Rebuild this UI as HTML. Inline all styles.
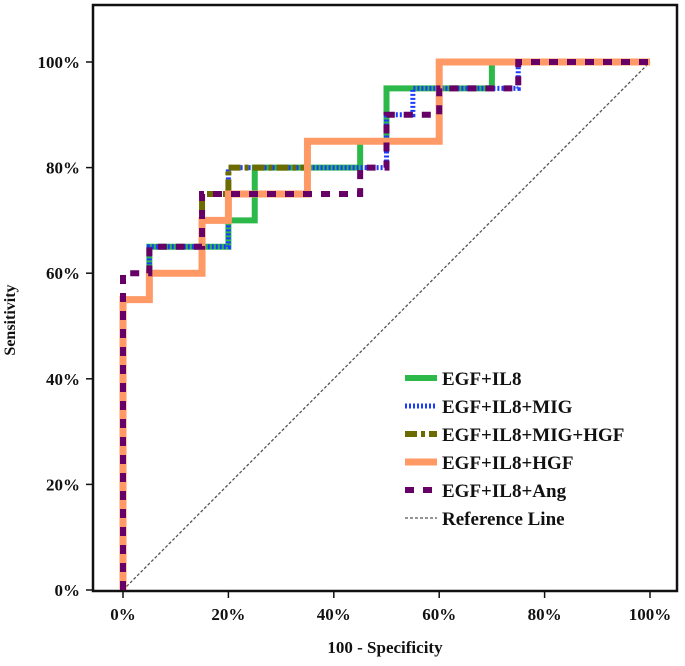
<!DOCTYPE html>
<html><head><meta charset="utf-8"><style>
body{margin:0;background:#fff}
text{font-family:"Liberation Serif",serif;font-weight:bold;fill:#111}
</style></head><body>
<svg id="chart" width="685" height="661" xmlns="http://www.w3.org/2000/svg">
<rect x="93" y="5" width="584" height="586" fill="none" stroke="#111" stroke-width="2.5"/>
<g id="axes"></g>
<g id="series"></g>
<g id="legend"></g>
<text x="385" y="653" text-anchor="middle" font-size="17">100 - Specificity</text>
<text transform="translate(15,320) rotate(-90)" text-anchor="middle" font-size="16">Sensitivity</text>
</svg>
<script>
const xTicks=[0,20,40,60,80,100];
const yTicks=[0,20,40,60,80,100];
const seriesNames=["EGF+IL8","EGF+IL8+MIG","EGF+IL8+MIG+HGF","EGF+IL8+HGF","EGF+IL8+Ang"];
const egfIl8=[[0,0],[0,55],[5,55],[5,65],[20,65],[20,70],[25,70],[25,80],[45,80],[45,85],[50,85],[50,95],[70,95],[70,100],[100,100]];
const egfIl8Mig=[[0,0],[0,55],[5,55],[5,65],[20,65],[20,80],[50,80],[50,90],[55,90],[55,95],[75,95],[75,100],[100,100]];
const egfIl8MigHgf=[[0,0],[0,55],[5,55],[5,60],[15,60],[15,75],[20,75],[20,80],[35,80],[35,85],[60,85],[60,100],[100,100]];
const egfIl8Hgf=[[0,0],[0,55],[5,55],[5,60],[15,60],[15,70],[20,70],[20,75],[35,75],[35,85],[60,85],[60,100],[100,100]];
const egfIl8Ang=[[0,0],[0,60],[5,60],[5,65],[15,65],[15,75],[45,75],[45,80],[50,80],[50,90],[60,90],[60,95],[75,95],[75,100],[100,100]];
const refLine=[[0,0],[100,100]];
const X=v=>123+v*5.27, Y=v=>590-v*5.28;
const NS="http://www.w3.org/2000/svg";
const axes=document.getElementById('axes');
function mk(tag,attrs,parent){const e=document.createElementNS(NS,tag);for(const k in attrs)e.setAttribute(k,attrs[k]);parent.appendChild(e);return e;}
xTicks.forEach(t=>{
 const l=mk('line',{x1:X(t),x2:X(t),y1:591,y2:598,stroke:'#111','stroke-width':1.5},axes);
 
 
 const tx=mk('text',{x:X(t),y:620,'text-anchor':'middle','font-size':17},axes);tx.textContent=t+'%';
 
 
});
yTicks.forEach(t=>{
 const l=mk('line',{x1:86,x2:93,y1:Y(t),y2:Y(t),stroke:'#111','stroke-width':1.5},axes);
 
 
 const tx=mk('text',{x:80,y:Y(t)+6,'text-anchor':'end','font-size':17},axes);tx.textContent=t+'%';
 
 
});
const styles=[
 {d:egfIl8,stroke:'#2db84a',w:6,dash:''},
 {d:egfIl8Mig,stroke:'#1a3cff',w:5,dash:'2 2'},
 {d:egfIl8MigHgf,stroke:'#6b6b00',w:6,dash:'12 4 4 4'},
 {d:egfIl8Hgf,stroke:'#ff9966',w:7,dash:''},
 {d:egfIl8Ang,stroke:'#660066',w:6,dash:'9 9'}];
const sg=document.getElementById('series');
const ref=mk('path',{d:'M'+refLine.map(p=>X(p[0])+','+Y(p[1])).join('L'),fill:'none',stroke:'#555','stroke-width':1.3,'stroke-dasharray':'3 2'},sg);


[0,1,2,3,4].forEach(i=>{
 const s=styles[i];
 const p=mk('path',{d:'M'+s.d.map(q=>X(q[0])+','+Y(q[1])).join('L'),fill:'none',stroke:s.stroke,'stroke-width':s.w,'stroke-dasharray':s.dash,'stroke-linejoin':'miter'},sg);
 
 
});
const lg=document.getElementById('legend');
const names=seriesNames.concat(['Reference Line']);
names.forEach((n,i)=>{
 const y=378+i*28;
 const s=styles[i]||{stroke:'#555',w:1.3,dash:'3 2'};
 const l=mk('line',{x1:405,x2:437,y1:y,y2:y,stroke:s.stroke,'stroke-width':s.w,'stroke-dasharray':s.dash},lg);
 
 
 const t=mk('text',{x:442,y:y+7,'font-size':19,textLength:null},lg);t.removeAttribute('textLength');t.textContent=n;
 
 
});
</script>
</body></html>
